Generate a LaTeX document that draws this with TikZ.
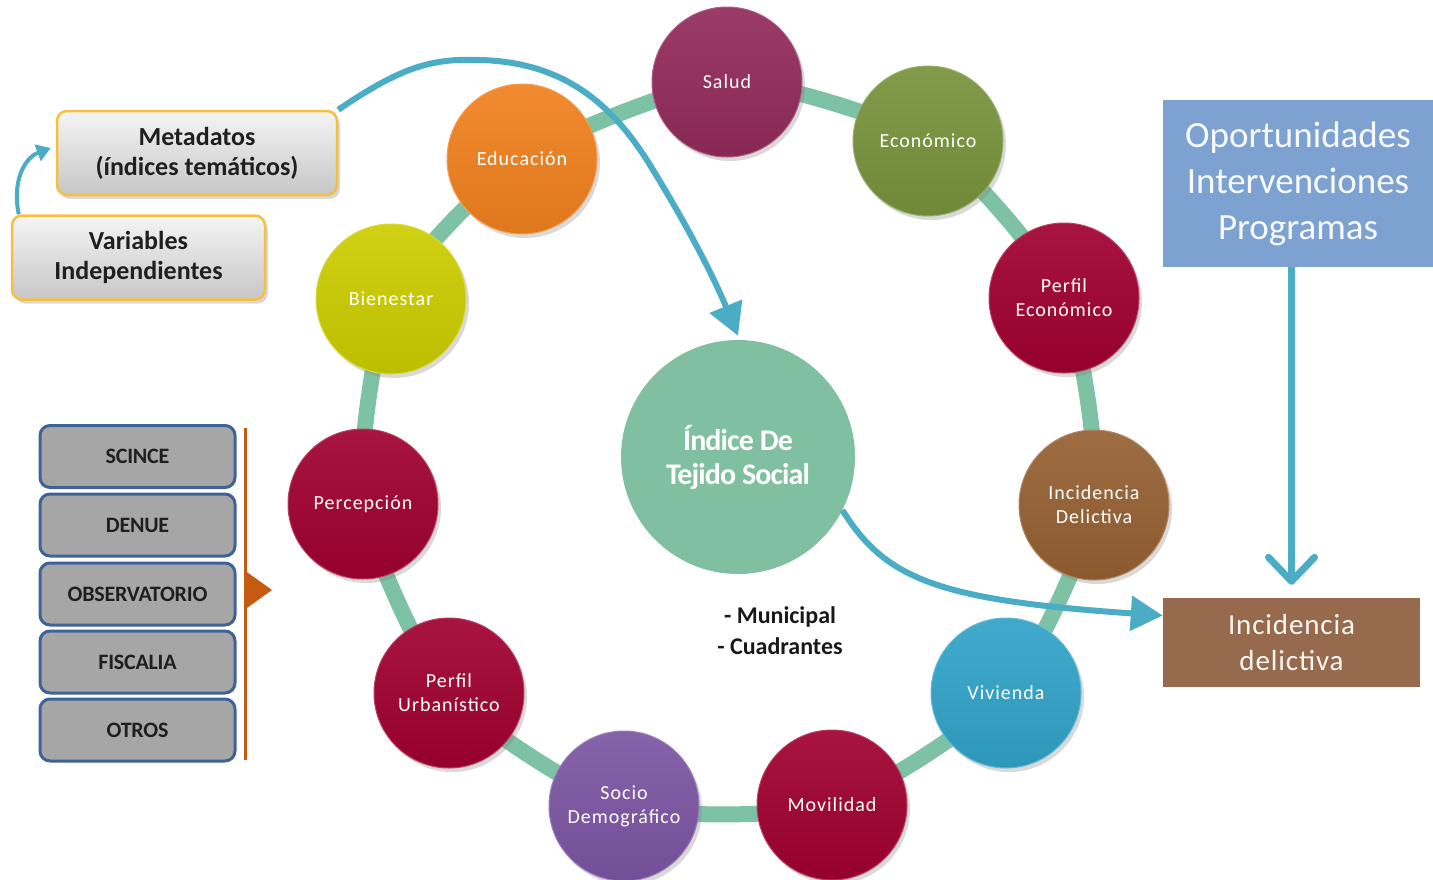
\documentclass[tikz,border=0pt]{standalone}
\usepackage{fontspec}
\setmainfont{Carlito}
\newfontfamily\circfont[LetterSpace=5]{Carlito}
\newfontfamily\tisfont[LetterSpace=-3]{Carlito}
\newfontfamily\listfont[LetterSpace=-1]{Carlito}
\newfontfamily\incfont[LetterSpace=3]{Carlito}
\usetikzlibrary{arrows.meta,shadows,calc}
\definecolor{ringc}{HTML}{7DC2A5}
\definecolor{tisc}{HTML}{80C0A0}
\definecolor{saludc}{HTML}{922A5A}
\definecolor{econc}{HTML}{77933C}
\definecolor{crimc}{HTML}{A00030}
\definecolor{incc}{HTML}{966032}
\definecolor{vivc}{HTML}{31A3C8}
\definecolor{socc}{HTML}{7B55A3}
\definecolor{bienc}{HTML}{CCCC00}
\definecolor{educc}{HTML}{F0801E}
\definecolor{flowc}{HTML}{4BACC6}
\definecolor{opc}{HTML}{7DA2D1}
\definecolor{incbc}{HTML}{976A4E}
\definecolor{listfill}{HTML}{A6A6A6}
\definecolor{listdraw}{HTML}{3F6396}
\definecolor{orangec}{HTML}{C55A11}
\definecolor{metadraw}{HTML}{F5C040}
\tikzset{
  bub/.style={circle, minimum size=150pt, inner sep=0pt,
    top color=#1!92!white, bottom color=#1!93!black,
    draw=#1!75!white, line width=1pt,
    drop shadow={shadow xshift=3pt, shadow yshift=-4pt, opacity=0.3},
    text=white, font=\circfont\fontsize{20}{24}\selectfont, align=center},
  ringline/.style={draw=ringc, line width=16pt},
  metabox/.style={rectangle, rounded corners=10pt, draw=metadraw, line width=2.5pt,
    top color=white!96!black, bottom color=white!78!black,
    drop shadow={shadow xshift=3pt, shadow yshift=-4pt, opacity=0.3},
    text=black!88, font=\bfseries\fontsize{26}{30}\selectfont, align=center,
    minimum height=84pt, inner sep=0pt},
  listbox/.style={rectangle, rounded corners=10pt, draw=listdraw, line width=3pt,
    fill=listfill, minimum width=195pt, minimum height=62pt, inner sep=0pt,
    text=black!88, font=\listfont\bfseries\fontsize{22}{24}\selectfont},
  flow/.style={draw=flowc, line width=6pt, -{Triangle[length=32pt,width=34pt]}},
  smallflow/.style={draw=flowc, line width=4pt, -{Triangle[length=14pt,width=17pt]}},
  downflow/.style={draw=flowc, line width=7pt, -{Straight Barb[length=24pt,width=46pt,round]}}
}
\begin{document}
\begin{tikzpicture}[x=1pt,y=-1pt]
\useasboundingbox (0,0) rectangle (1433,879);
% ring points
\coordinate (p1) at (727,82);
\coordinate (p2) at (928,141);
\coordinate (p3) at (1064,298);
\coordinate (p4) at (1094,505);
\coordinate (p5) at (1006,693);
\coordinate (p6) at (832,805);
\coordinate (p7) at (624,806);
\coordinate (p8) at (449,693);
\coordinate (p9) at (363,504);
\coordinate (p10) at (391,299);
\coordinate (p11) at (522,159);
\draw[ringline] plot[smooth cycle, tension=0.38] coordinates {(p1) (p2) (p3) (p4) (p5) (p6) (p7) (p8) (p9) (p10) (p11)};
% bubbles
\node[bub=saludc] (salud) at (p1) {Salud};
\node[bub=econc] (econ) at (p2) {Económico};
\node[bub=crimc] (pecon) at (p3) {Perfil\\Económico};
\node[bub=incc] (incd) at (p4) {Incidencia\\Delictiva};
\node[bub=vivc] (viv) at (p5) {Vivienda};
\node[bub=crimc] (movil) at (p6) {Movilidad};
\node[bub=socc] (socio) at (p7) {Socio\\Demográfico};
\node[bub=crimc] (purb) at (p8) {Perfil\\Urbanístico};
\node[bub=crimc] (perc) at (p9) {Percepción};
\node[bub=bienc] (bien) at (p10) {Bienestar};
\node[bub=educc] (educ) at (p11) {Educación};
% center
\node[circle, minimum size=234pt, inner sep=0pt, fill=tisc, text=white, align=center,
  font=\tisfont\bfseries\fontsize{30}{34}\selectfont] (tis) at (738,457) {Índice De\\Tejido Social};
\node[font=\bfseries\fontsize{24}{31}\selectfont, text=black!90, align=center] (mun) at (780,631) {- Municipal\\- Cuadrantes};
% left boxes
\node[metabox, minimum width=280pt] (meta) at (197,153) {Metadatos\\(índices temáticos)};
\node[metabox, minimum width=253pt] (varb) at (138.5,257.5) {Variables\\Independientes};
% list
\node[listbox] (l1) at (137.5,456.5) {SCINCE};
\node[listbox] (l2) at (137.5,525) {DENUE};
\node[listbox] (l3) at (137.5,594) {OBSERVATORIO};
\node[listbox] (l4) at (137.5,662) {FISCALIA};
\node[listbox] (l5) at (137.5,730) {OTROS};
\draw[orangec, line width=3pt] (245,428) -- (245,760);
\fill[orangec] (244,570) -- (272,590) -- (244,610) -- cycle;
% right boxes
\node[rectangle, fill=opc, minimum width=270pt, minimum height=167pt, inner sep=0pt,
  text=white!94!opc, align=center, font=\fontsize{37}{46}\selectfont] (opb) at (1298,183.5)
  {Oportunidades\\Intervenciones\\Programas};
\node[rectangle, fill=incbc, minimum width=257pt, minimum height=89pt, inner sep=0pt,
  text=white!94!incbc, align=center, font=\incfont\fontsize{29}{36}\selectfont] (incb) at (1291.5,642.5)
  {Incidencia\\delictiva};
% arrows
\draw[smallflow] ($(varb.north west)+(8,0)$) .. controls (12,182) and (24,158) .. ($(meta.west)+(-5,-5)$);
\draw[flow] (meta.north east) .. controls (400,68) and (430,58) .. (480,60)
  .. controls (560,62) and (610,100) .. (650,165)
  .. controls (690,230) and (715,280) .. ([yshift=4pt]tis.north);
\draw[flow] (tis.-27) .. controls (885,578) and (935,600) .. ($(incb.west)+(0,-27)$);
\draw[downflow] (opb.south -| incb.north) -- ([yshift=13pt]incb.north);
\end{tikzpicture}
\end{document}
